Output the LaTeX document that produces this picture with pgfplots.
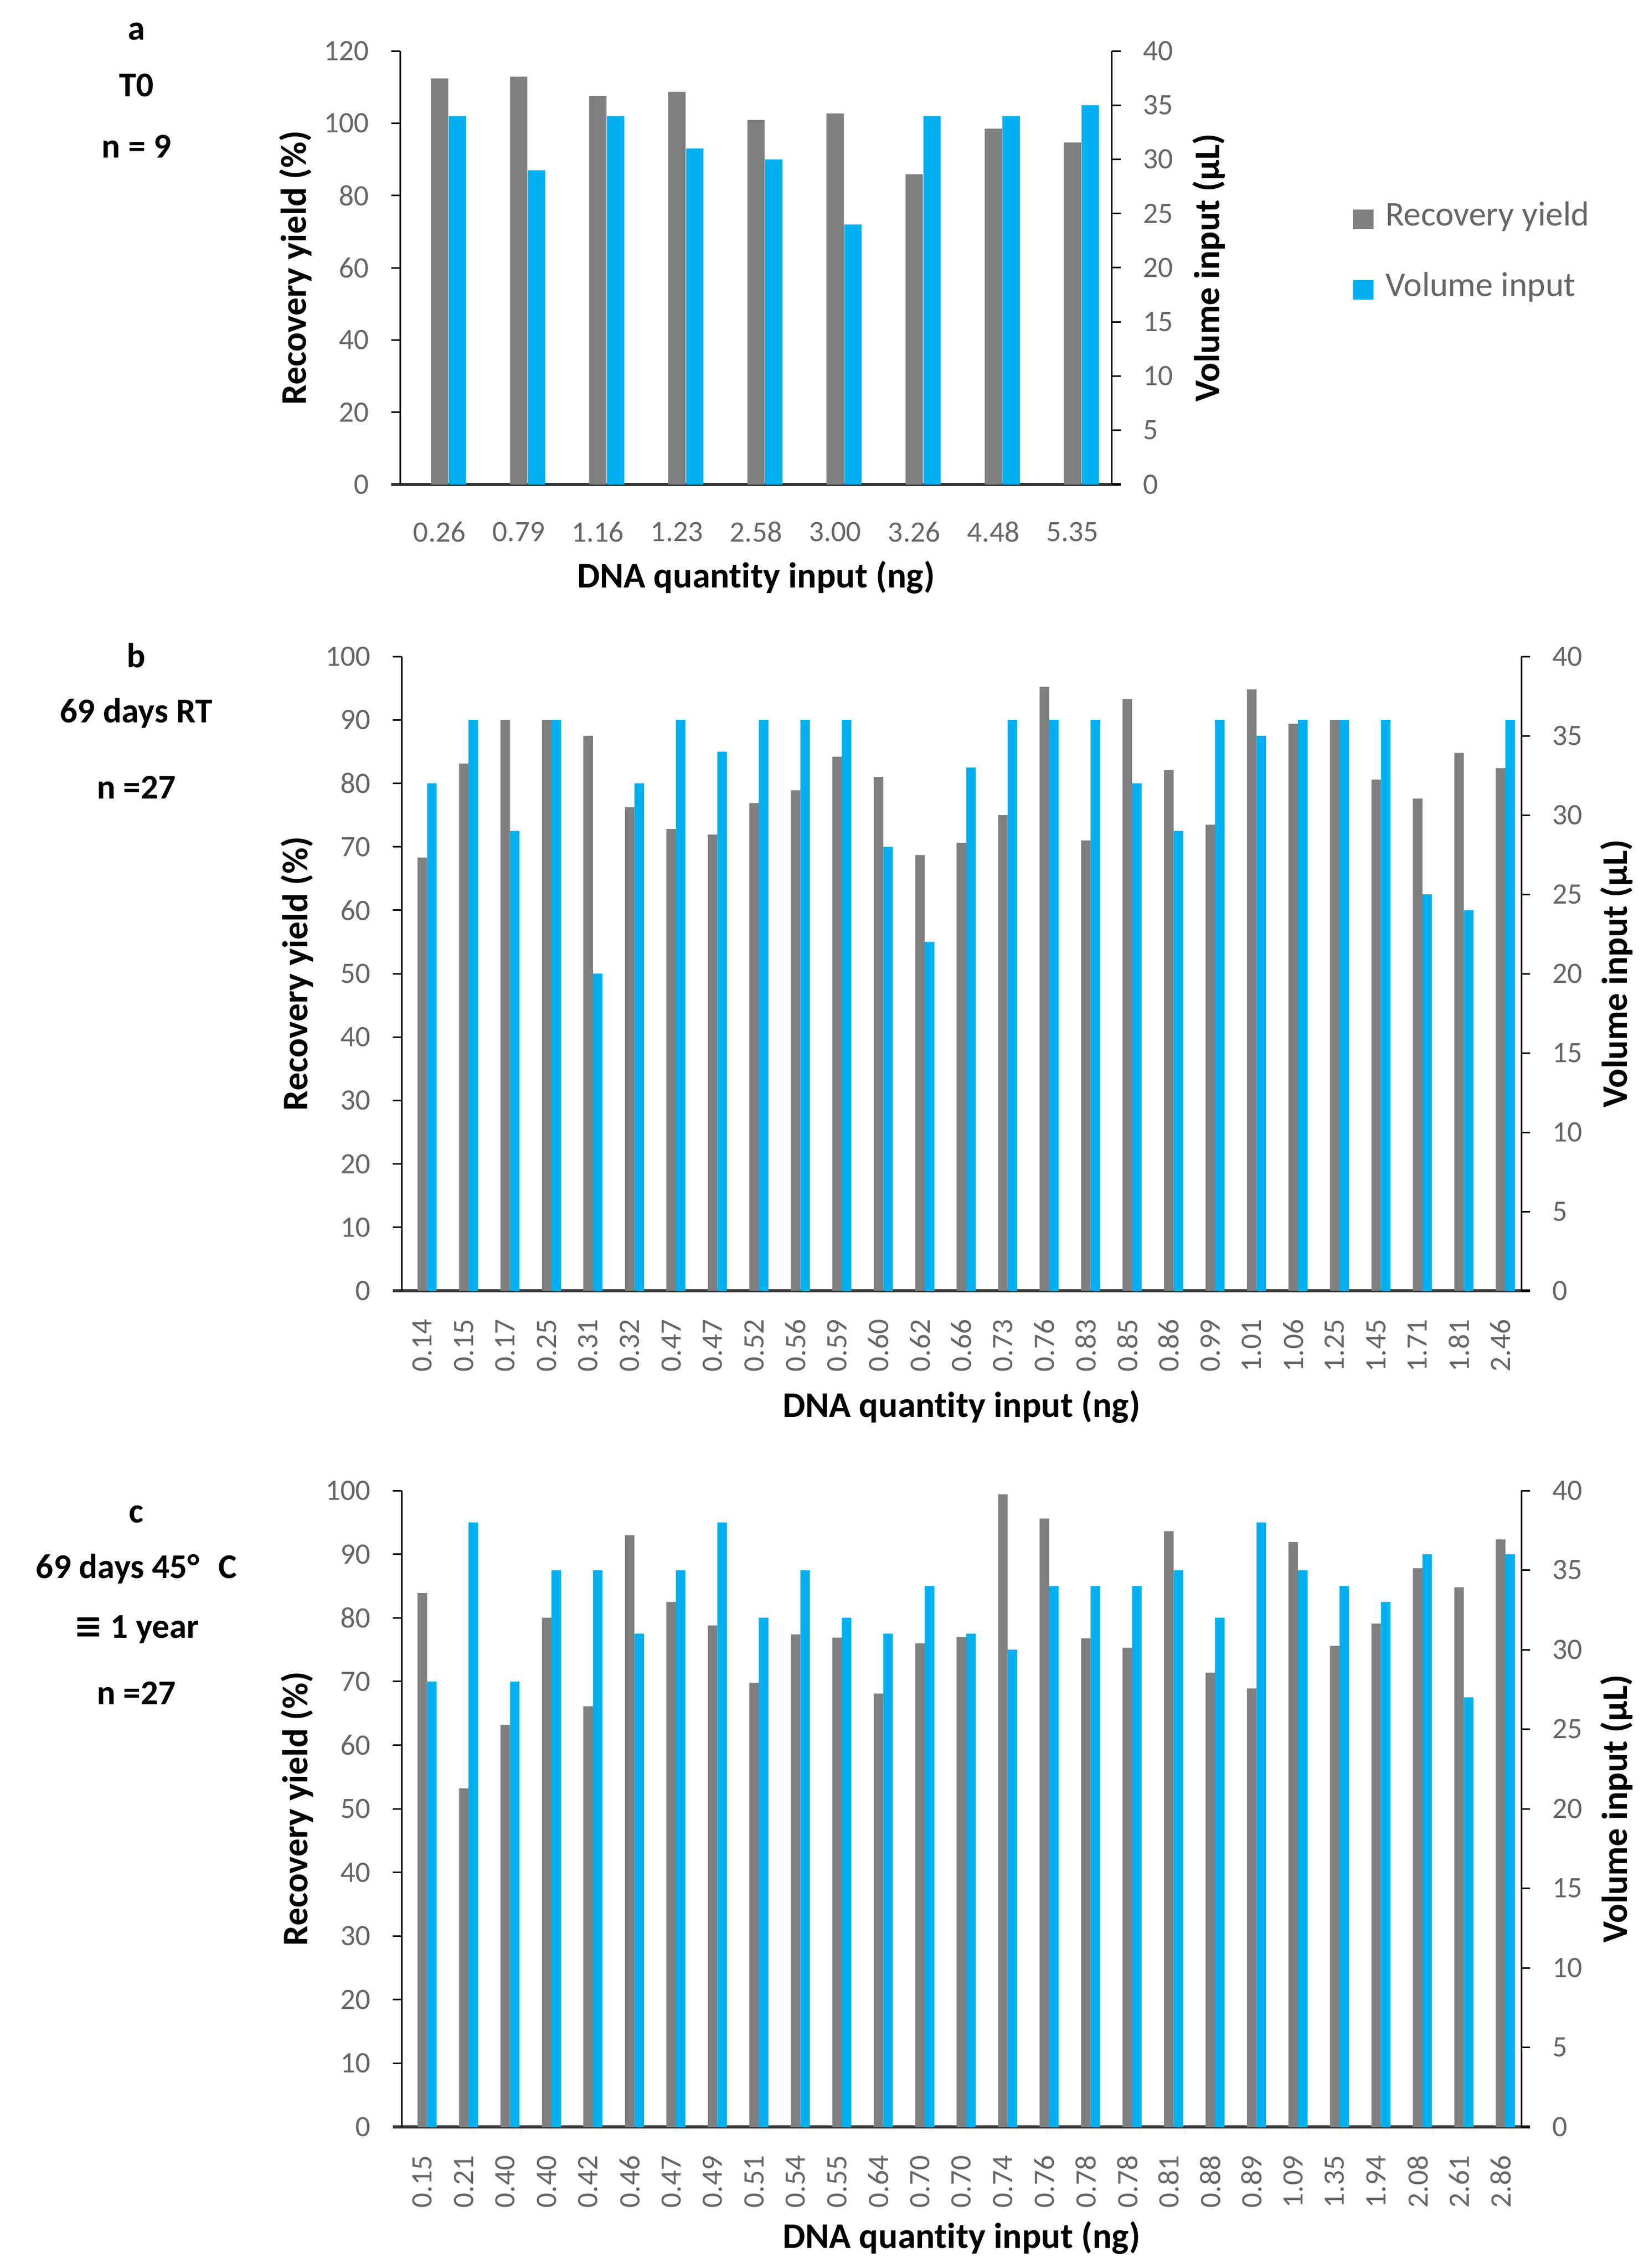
\documentclass[border=0pt]{standalone}
\usepackage{fontspec}
\setmainfont{Carlito}[Ligatures={NoCommon}]
\newfontfamily\dejavu{DejaVu Sans}
\usepackage{pgfplots}
\pgfplotsset{compat=1.18}
\usepackage{pgfplotstable}

\definecolor{barGray}{HTML}{7F7F7F}
\definecolor{barBlue}{HTML}{00B0F0}
\definecolor{tickgray}{HTML}{666666}

\pgfplotstableread{
x ry vol
0 112.4 34
1 112.9 29
2 107.6 34
3 108.7 31
4 100.9 30
5 102.7 24
6 85.9 34
7 98.5 34
8 94.7 35
}\tabA

\pgfplotstableread{
x ry vol
0 68.3 32
1 83.1 36
2 90.0 29
3 90.0 36
4 87.5 20
5 76.2 32
6 72.8 36
7 71.9 34
8 76.9 36
9 78.9 36
10 84.2 36
11 81.0 28
12 68.7 22
13 70.6 33
14 75.0 36
15 95.2 36
16 71.0 36
17 93.3 32
18 82.1 29
19 73.5 36
20 94.8 35
21 89.4 36
22 90.0 36
23 80.6 36
24 77.6 25
25 84.8 24
26 82.4 36
}\tabB

\pgfplotstableread{
x ry vol
0 83.9 28
1 53.2 38
2 63.2 28
3 80.0 35
4 66.1 35
5 93.0 31
6 82.5 35
7 78.8 38
8 69.8 32
9 77.4 35
10 76.9 32
11 68.1 31
12 76.0 34
13 77.0 31
14 99.4 30
15 95.6 34
16 76.8 34
17 75.3 34
18 93.6 35
19 71.4 32
20 68.9 38
21 91.9 35
22 75.6 34
23 79.1 33
24 87.8 36
25 84.8 27
26 92.3 36
}\tabC

\pgfplotsset{
  base/.style={
    scale only axis,
    anchor=north west,
    ymin=0,
    tick align=outside,
    major tick length=3.4pt,
    tick label style={font=\fontsize{11.5}{13}\selectfont, text=tickgray, inner sep=0pt},
    /pgf/number format/assume math mode=true,
    label style={font=\bfseries\fontsize{14}{16}\selectfont, text=black},
  },
  leftax/.style={base,
    axis y line*=left, axis x line*=bottom,
    y axis line style={-, black, line width=0.6pt},
    x axis line style={-, black!80, line width=1.1pt, shorten <=-3.4pt, shorten >=-3.4pt},
    ytick style={black, line width=0.6pt},
    xtick style={draw=none},
    yticklabel style={anchor=east},
    yticklabel shift=8.4pt,
  },
  rightax/.style={base,
    axis y line*=right, axis x line=none,
    xtick=\empty,
    y axis line style={-, black, line width=0.6pt},
    ytick style={black, line width=0.6pt},
    yticklabel style={anchor=west},
    yticklabel shift=8.4pt,
    ymax=40, ytick={0,5,...,40},
  },
}

\begin{document}
\begin{tikzpicture}
\useasboundingbox (0,0) rectangle (640.4pt,-881pt);

% ---------------- panel a ----------------
\begin{axis}[leftax, at={(155.4pt,-19.8pt)}, width=276.6pt, height=168.4pt,
  xmin=-0.5, xmax=8.5, ymax=120, ytick={0,20,...,120},
  xtick={0,...,8},
  xticklabels={0.26,0.79,1.16,1.23,2.58,3.00,3.26,4.48,5.35},
  xticklabel style={anchor=center},
  xticklabel shift=15pt,
  xlabel={DNA quantity input (ng)},
  ylabel={Recovery yield (\%)},
  xlabel style={at={(axis description cs:0.5,-0.2138)}, anchor=center},
  ylabel style={at={(axis description cs:-0.1468,0.5)}, anchor=center},
]
\addplot[ybar, bar width=0.22, bar shift=0, fill=barGray, draw=none, forget plot] table[x=x,y=ry] {\tabA};
\end{axis}
\begin{axis}[rightax, at={(155.4pt,-19.8pt)}, width=276.6pt, height=168.4pt,
  xmin=-0.5, xmax=8.5,
  ylabel={Volume input (µL)},
  ylabel style={at={(axis description cs:1.1359,0.5)}, anchor=center},
  legend style={at={(axis description cs:1.3377,0.530)}, anchor=west, draw=none, fill=none,
    inner sep=0pt, font=\fontsize{13.5}{15}\selectfont, text=tickgray, row sep=18pt,
    nodes={inner sep=0pt, text height=0.72em, text depth=0.22em},
    /tikz/every odd column/.append style={column sep=4.6pt}},
  legend cell align=left,
  legend image code/.code={\fill[#1] (0pt,-3.8pt) rectangle (8pt,3.8pt);},
]
\addlegendimage{fill=barGray, draw=none}
\addlegendentry{Recovery yield}
\addlegendimage{fill=barBlue, draw=none}
\addlegendentry{Volume input}
\addplot[ybar, bar width=0.22, bar shift=0.225, fill=barBlue, draw=none, forget plot] table[x=x,y=vol] {\tabA};
\end{axis}

% ---------------- panel b ----------------
\begin{axis}[leftax, at={(156pt,-255pt)}, width=435pt, height=246.4pt,
  xmin=-0.5, xmax=26.5, ymax=100, ytick={0,10,...,100},
  xtick={0,...,26},
  xticklabels={0.14,0.15,0.17,0.25,0.31,0.32,0.47,0.47,0.52,0.56,0.59,0.60,0.62,0.66,0.73,0.76,0.83,0.85,0.86,0.99,1.01,1.06,1.25,1.45,1.71,1.81,2.46},
  xticklabel style={rotate=90, anchor=east},
  xticklabel shift=7.5pt,
  xlabel={DNA quantity input (ng)},
  ylabel={Recovery yield (\%)},
  xlabel style={at={(axis description cs:0.5,-0.1826)}, anchor=center},
  ylabel style={at={(axis description cs:-0.0933,0.5)}, anchor=center},
]
\addplot[ybar, bar width=0.23, bar shift=0, fill=barGray, draw=none] table[x=x,y=ry] {\tabB};
\end{axis}
\begin{axis}[rightax, at={(156pt,-255pt)}, width=435pt, height=246.4pt,
  xmin=-0.5, xmax=26.5,
  ylabel={Volume input (µL)},
  ylabel style={at={(axis description cs:1.0851,0.5)}, anchor=center},
]
\addplot[ybar, bar width=0.23, bar shift=0.23, fill=barBlue, draw=none] table[x=x,y=vol] {\tabB};
\end{axis}

% ---------------- panel c ----------------
\begin{axis}[leftax, at={(156pt,-579pt)}, width=435pt, height=247.2pt,
  xmin=-0.5, xmax=26.5, ymax=100, ytick={0,10,...,100},
  xtick={0,...,26},
  xticklabels={0.15,0.21,0.40,0.40,0.42,0.46,0.47,0.49,0.51,0.54,0.55,0.64,0.70,0.70,0.74,0.76,0.78,0.78,0.81,0.88,0.89,1.09,1.35,1.94,2.08,2.61,2.86},
  xticklabel style={rotate=90, anchor=east},
  xticklabel shift=7.5pt,
  xlabel={DNA quantity input (ng)},
  ylabel={Recovery yield (\%)},
  xlabel style={at={(axis description cs:0.5,-0.174)}, anchor=center},
  ylabel style={at={(axis description cs:-0.0933,0.5)}, anchor=center},
]
\addplot[ybar, bar width=0.23, bar shift=0, fill=barGray, draw=none] table[x=x,y=ry] {\tabC};
\end{axis}
\begin{axis}[rightax, at={(156pt,-579pt)}, width=435pt, height=247.2pt,
  xmin=-0.5, xmax=26.5,
  ylabel={Volume input (µL)},
  ylabel style={at={(axis description cs:1.0851,0.5)}, anchor=center},
]
\addplot[ybar, bar width=0.23, bar shift=0.23, fill=barBlue, draw=none] table[x=x,y=vol] {\tabC};
\end{axis}

% ---------------- panel titles ----------------
\begin{scope}[every node/.style={font=\bfseries\fontsize{13.5}{16}\selectfont, inner sep=0pt, anchor=center}]
\node at (53pt,-12.2pt) {a};
\node at (53pt,-33.2pt) {T0};
\node at (53pt,-56.8pt) {n = 9};
\node at (53pt,-254.6pt) {b};
\node at (53pt,-277pt) {69 days RT};
\node at (53pt,-305.8pt) {n =27};
\node at (53pt,-588.2pt) {c};
\node at (53pt,-609.4pt) {69 days 45°\hspace{0.55em}C};
\node at (53pt,-633pt) {{\dejavu\bfseries ≡} 1 year};
\node at (53pt,-657.6pt) {n =27};
\end{scope}
\end{tikzpicture}
\end{document}
